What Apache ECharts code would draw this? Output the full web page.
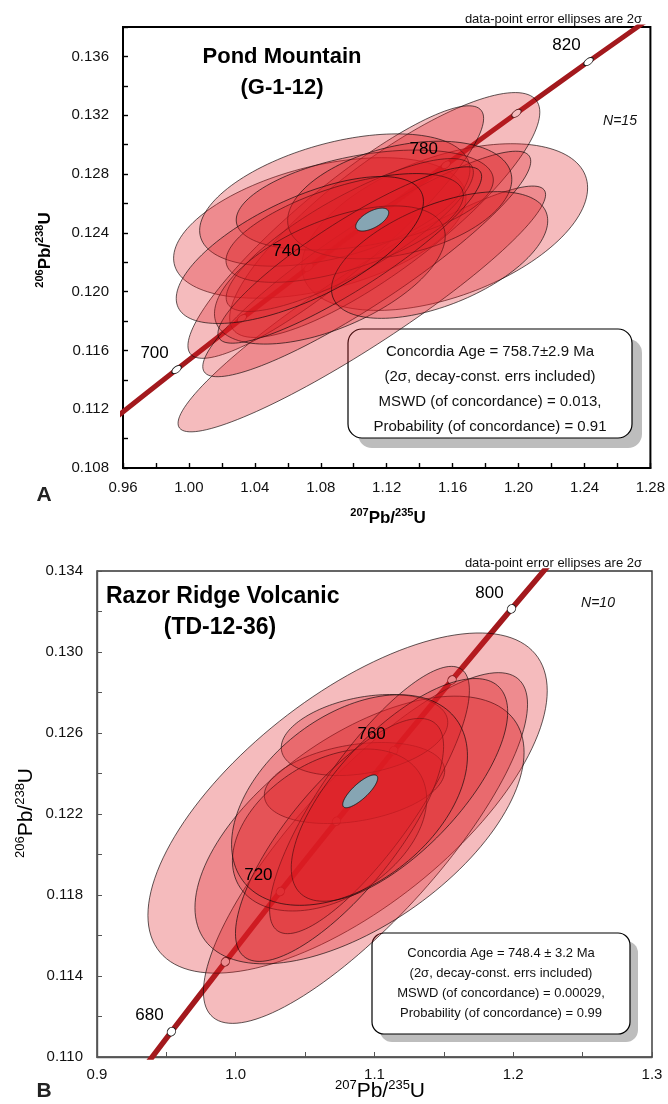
<!DOCTYPE html>
<html>
<head>
<meta charset="utf-8">
<title>U-Pb concordia diagrams</title>
<script src="https://cdn.jsdelivr.net/npm/echarts@6/dist/echarts.min.js"></script>
<style>
  html, body { margin: 0; padding: 0; background: #fff; }
  #chart { width: 668px; height: 1104px; }
</style>
</head>
<body>
<div id="chart"></div>
<script>
// Concordia curve: age (Ma) with 207Pb/235U and 206Pb/238U ratios
const concAge = [640, 660, 680, 700, 720, 740, 760, 780, 800, 820, 840];
const concX = [0.87818, 0.91554, 0.95365, 0.99251, 1.03215, 1.07257, 1.11380, 1.15585, 1.19873, 1.24247, 1.28707];
const concY = [0.10438, 0.10781, 0.11125, 0.11470, 0.11817, 0.12164, 0.12513, 0.12862, 0.13213, 0.13565, 0.13918];

// Pond Mountain (G-1-12): 207/235, 206/238, 2-sigma errors, error correlation
const pondX   = [1.0794, 1.1552, 1.1049, 1.1188, 1.0891, 1.1079, 1.0885, 1.1067, 1.0976, 1.1279, 1.0945, 1.0855, 1.0976, 1.1521, 1.0673];
const pondY   = [0.12433, 0.12439, 0.11882, 0.12521, 0.12405, 0.12188, 0.12623, 0.12623, 0.12385, 0.12623, 0.12433, 0.12113, 0.12249, 0.12249, 0.12283];
const pondSX  = [0.0887, 0.0867, 0.1115, 0.0941, 0.0897, 0.0995, 0.0820, 0.0780, 0.0750, 0.0680, 0.0720, 0.0700, 0.0800, 0.0656, 0.0750];
const pondSY  = [0.00478, 0.00567, 0.00836, 0.00833, 0.00859, 0.00767, 0.00450, 0.00340, 0.00520, 0.00400, 0.00370, 0.00470, 0.00600, 0.00431, 0.00500];
const pondRho = [0.43, 0.47, 0.93, 0.84, 0.90, 0.91, 0.46, 0.40, 0.82, 0.35, 0.60, 0.56, 0.89, 0.54, 0.66];
const pondConcordia = [1.1112, 0.12490, 0.0100, 0.00078, 0.60];
const pondMarkerAges = [700, 720, 740, 760, 780, 800, 820];
const pondLabelAges = [700, 740, 780, 820];

// Razor Ridge Volcanic (TD-12-36)
const razorX   = [1.0806, 1.0935, 1.0892, 1.0856, 1.0928, 1.0676, 1.0964, 1.0748, 1.1180, 1.0820];
const razorY   = [0.12254, 0.12032, 0.12121, 0.12353, 0.12590, 0.12121, 0.12269, 0.12072, 0.12319, 0.12269];
const razorSX  = [0.1439, 0.1168, 0.1186, 0.0650, 0.0600, 0.0700, 0.0720, 0.0750, 0.0780, 0.0850];
const razorSY  = [0.00840, 0.00866, 0.00661, 0.00200, 0.00200, 0.00400, 0.00660, 0.00600, 0.00550, 0.00520];
const razorRho = [0.66, 0.82, 0.58, 0.30, 0.31, 0.38, 0.82, 0.77, 0.70, 0.42];
const razorConcordia = [1.0897, 0.12312, 0.0126, 0.00081, 0.80];
const razorMarkerAges = [680, 700, 720, 740, 760, 780, 800];
const razorLabelAges = [680, 720, 760, 800];

const FONT = "'Liberation Sans', Arial, Helvetica, sans-serif";

function zipEllipses(xs, ys, sxs, sys, rhos) {
  return xs.map((x, i) => [x, ys[i], sxs[i], sys[i], rhos[i]]);
}
const concPoints = concAge.map((a, i) => [concX[i], concY[i]]);
function concAt(ages, withAge) {
  return ages.map(a => {
    const i = concAge.indexOf(a);
    return withAge ? [concX[i], concY[i], a] : [concX[i], concY[i]];
  });
}

// error ellipse from centre, 2-sigma half-widths and correlation
function ellipseRenderer(fill, stroke, lineWidth) {
  return function (params, api) {
    const cx = api.value(0), cy = api.value(1);
    const sx = api.value(2), sy = api.value(3), r = api.value(4);
    const q = Math.sqrt(1 - r * r);
    const pts = [];
    const n = 144;
    for (let i = 0; i < n; i++) {
      const t = (i / n) * Math.PI * 2;
      const c = Math.cos(t), s = Math.sin(t);
      pts.push(api.coord([cx + sx * c, cy + sy * (r * c + q * s)]));
    }
    return { type: 'polygon', shape: { points: pts }, style: { fill: fill, stroke: stroke, lineWidth: lineWidth } };
  };
}

function everyOther(step, parity, digits) {
  return function (v) {
    const k = Math.round(v / step);
    return (Math.abs(k) % 2 === parity) ? v.toFixed(digits) : '';
  };
}

function panelSeries(ax, ellipses, ageEllipse, markerAges, labelAges, markerSize, markerRot, lineWidth) {
  return [
    {
      type: 'line', xAxisIndex: ax, yAxisIndex: ax, data: concPoints, smooth: 0.2,
      symbol: 'none', clip: true, silent: true, z: 2,
      lineStyle: { color: '#a3191d', width: lineWidth }
    },
    {
      type: 'scatter', xAxisIndex: ax, yAxisIndex: ax, data: concAt(markerAges, false),
      symbol: 'circle', symbolSize: markerSize, symbolRotate: markerRot, silent: true, z: 3,
      itemStyle: { color: '#ffffff', borderColor: '#1a1a1a', borderWidth: 0.9, opacity: 1 }
    },
    {
      type: 'custom', xAxisIndex: ax, yAxisIndex: ax, data: ellipses, clip: true, silent: true, z: 4,
      renderItem: ellipseRenderer('rgba(222,30,38,0.30)', 'rgba(20,10,10,0.85)', 0.8)
    },
    {
      type: 'custom', xAxisIndex: ax, yAxisIndex: ax, data: [ageEllipse], clip: true, silent: true, z: 5,
      renderItem: ellipseRenderer('#86a5b3', '#1a1a1a', 0.9)
    },
    {
      type: 'scatter', xAxisIndex: ax, yAxisIndex: ax, data: concAt(labelAges, true),
      symbol: 'circle', symbolSize: 1, silent: true, z: 6,
      itemStyle: { color: 'rgba(0,0,0,0)', opacity: 1 },
      label: {
        show: true, position: 'inside', offset: [-22, -16],
        formatter: p => String(p.value[2]),
        fontFamily: FONT, fontSize: 17, color: '#000', opacity: 1
      }
    }
  ];
}

function axisCommon(color, width, tickWidth) {
  return {
    type: 'value',
    axisLine: { show: true, onZero: false, lineStyle: { color: color, width: width } },
    axisTick: { show: true, inside: true, length: 5, lineStyle: { color: color, width: tickWidth } },
    splitLine: { show: false },
    axisLabel: { fontFamily: FONT, fontSize: 15, color: '#111', showMinLabel: true, showMaxLabel: true }
  };
}

const axA = axisCommon('#000', 2, 1.4);
const axB = axisCommon('#555', 1.4, 1);

function sup(text, main, sizeSup, sizeMain, weight) {
  return {
    text: '{s|' + text[0] + '}{m|' + main[0] + '}{s|' + text[1] + '}{m|' + main[1] + '}',
    rich: {
      s: { fontFamily: FONT, fontSize: sizeSup, fontWeight: weight, verticalAlign: 'top', lineHeight: sizeSup + 1, fill: '#000' },
      m: { fontFamily: FONT, fontSize: sizeMain, fontWeight: weight, lineHeight: sizeMain + 4, fill: '#000' }
    },
    align: 'center', verticalAlign: 'middle'
  };
}

function noteBox(x, y, w, h, r, shadow, lines, cx, firstY, step, size) {
  const els = [
    { type: 'rect', shape: { x: x + shadow, y: y + shadow, width: w, height: h, r: r }, style: { fill: '#bdbdbd' } },
    { type: 'rect', shape: { x: x, y: y, width: w, height: h, r: r }, style: { fill: '#fff', stroke: '#000', lineWidth: 1.2 } }
  ];
  lines.forEach((t, i) => {
    els.push({ type: 'text', x: cx, y: firstY + i * step,
      style: { text: t, fontFamily: FONT, fontSize: size, fill: '#111', align: 'center', verticalAlign: 'middle' } });
  });
  return els;
}

const graphics = [
  // panel A
  { type: 'text', x: 642, y: 19, style: { text: 'data-point error ellipses are 2σ', fontFamily: FONT, fontSize: 13, fill: '#111', align: 'right', verticalAlign: 'middle' } },
  { type: 'text', x: 282, y: 57, style: { text: 'Pond Mountain', fontFamily: FONT, fontSize: 22, fontWeight: 'bold', fill: '#000', align: 'center', verticalAlign: 'middle' } },
  { type: 'text', x: 282, y: 88, style: { text: '(G-1-12)', fontFamily: FONT, fontSize: 22, fontWeight: 'bold', fill: '#000', align: 'center', verticalAlign: 'middle' } },
  { type: 'text', x: 620, y: 121, style: { text: 'N=15', fontFamily: FONT, fontSize: 14, fontStyle: 'italic', fill: '#111', align: 'center', verticalAlign: 'middle' } },
  { type: 'text', x: 44, y: 495, style: { text: 'A', fontFamily: FONT, fontSize: 21, fontWeight: 'bold', fill: '#222', align: 'center', verticalAlign: 'middle' } },
  { type: 'text', x: 388, y: 518, style: sup(['207', '235'], ['Pb/', 'U'], 11, 17, 'bold') },
  { type: 'text', x: 45, y: 250, rotation: Math.PI / 2, style: sup(['206', '238'], ['Pb/', 'U'], 11, 17, 'bold') },
  ...noteBox(348, 329, 284, 109, 14, 10, [
    'Concordia Age = 758.7±2.9 Ma',
    '(2σ, decay-const. errs included)',
    'MSWD (of concordance) = 0.013,',
    'Probability (of concordance) = 0.91'
  ], 490, 352, 25, 15),
  // panel B
  { type: 'text', x: 642, y: 563, style: { text: 'data-point error ellipses are 2σ', fontFamily: FONT, fontSize: 13, fill: '#111', align: 'right', verticalAlign: 'middle' } },
  { type: 'text', x: 106, y: 597, style: { text: 'Razor Ridge Volcanic', fontFamily: FONT, fontSize: 23, fontWeight: 'bold', fill: '#000', align: 'left', verticalAlign: 'middle' } },
  { type: 'text', x: 220, y: 628, style: { text: '(TD-12-36)', fontFamily: FONT, fontSize: 23, fontWeight: 'bold', fill: '#000', align: 'center', verticalAlign: 'middle' } },
  { type: 'text', x: 598, y: 603, style: { text: 'N=10', fontFamily: FONT, fontSize: 14, fontStyle: 'italic', fill: '#111', align: 'center', verticalAlign: 'middle' } },
  { type: 'text', x: 44, y: 1091, style: { text: 'B', fontFamily: FONT, fontSize: 21, fontWeight: 'bold', fill: '#222', align: 'center', verticalAlign: 'middle' } },
  { type: 'text', x: 380, y: 1091, style: sup(['207', '235'], ['Pb/', 'U'], 13, 21, 'normal') },
  { type: 'text', x: 26, y: 813, rotation: Math.PI / 2, style: sup(['206', '238'], ['Pb/', 'U'], 13, 21, 'normal') },
  ...noteBox(372, 933, 258, 101, 12, 8, [
    'Concordia Age = 748.4 ± 3.2 Ma',
    '(2σ, decay-const. errs included)',
    'MSWD (of concordance) = 0.00029,',
    'Probability (of concordance) = 0.99'
  ], 501, 953, 20.3, 13)
];

const option = {
  animation: false,
  backgroundColor: '#fff',
  grid: [
    { left: 123, right: 16, top: 27, height: 441, show: true, borderColor: '#000', borderWidth: 2 },
    { left: 97, right: 16, top: 571, height: 486, show: true, borderColor: '#333', borderWidth: 1.4 }
  ],
  xAxis: [
    Object.assign({}, axA, { gridIndex: 0, min: 0.96, max: 1.28, interval: 0.02,
      axisLabel: Object.assign({}, axA.axisLabel, { margin: 12, formatter: everyOther(0.02, 0, 2) }) }),
    Object.assign({}, axB, { gridIndex: 1, min: 0.9, max: 1.3, interval: 0.05,
      axisLabel: Object.assign({}, axB.axisLabel, { margin: 10, formatter: everyOther(0.05, 0, 1) }) })
  ],
  yAxis: [
    Object.assign({}, axA, { gridIndex: 0, min: 0.108, max: 0.138, interval: 0.002,
      axisLabel: Object.assign({}, axA.axisLabel, { margin: 14, formatter: everyOther(0.002, 0, 3) }) }),
    Object.assign({}, axB, { gridIndex: 1, min: 0.110, max: 0.134, interval: 0.002,
      axisLabel: Object.assign({}, axB.axisLabel, { margin: 14, formatter: everyOther(0.002, 1, 3) }) })
  ],
  series: [
    ...panelSeries(0, zipEllipses(pondX, pondY, pondSX, pondSY, pondRho), pondConcordia,
      pondMarkerAges, pondLabelAges, [11, 6], 37, 5),
    ...panelSeries(1, zipEllipses(razorX, razorY, razorSX, razorSY, razorRho), razorConcordia,
      razorMarkerAges, razorLabelAges, [9, 8], 50, 5.5)
  ],
  graphic: graphics
};

const chart = echarts.init(document.getElementById('chart'), null, { renderer: 'canvas' });
chart.setOption(option);
</script>
</body>
</html>
